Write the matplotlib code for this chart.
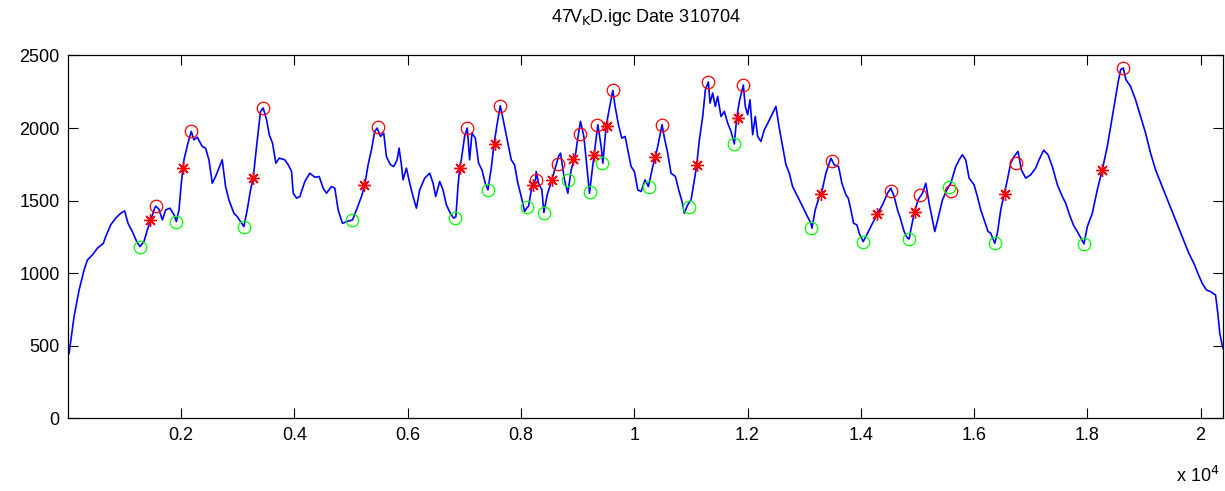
import matplotlib
matplotlib.use('Agg')
import matplotlib.pyplot as plt

# flight trace (time index, altitude)
flight = [
    (19, 447), (107, 700), (196, 884), (284, 1022), (343, 1091), (431, 1126), (519, 1172),
    (625, 1206), (666, 1252), (754, 1333), (842, 1379), (931, 1413), (1001, 1429),
    (1060, 1344), (1136, 1287), (1213, 1218), (1272, 1183), (1342, 1218), (1401, 1298),
    (1472, 1379), (1530, 1448), (1550, 1462), (1607, 1440), (1666, 1367), (1725, 1436),
    (1801, 1448), (1872, 1402), (1913, 1356), (1960, 1436), (2001, 1620), (2048, 1781),
    (2118, 1896), (2177, 1977), (2224, 1919), (2283, 1937), (2371, 1873), (2430, 1862),
    (2489, 1781), (2548, 1620), (2606, 1666), (2665, 1724), (2724, 1781), (2783, 1597),
    (2842, 1505), (2930, 1413), (2989, 1390), (3047, 1356), (3106, 1321), (3165, 1436),
    (3224, 1574), (3271, 1655), (3330, 1873), (3400, 2115), (3447, 2138), (3507, 2057),
    (3554, 1954), (3612, 1896), (3671, 1758), (3730, 1793), (3830, 1781), (3889, 1747),
    (3948, 1701), (3977, 1551), (4036, 1517), (4095, 1528), (4183, 1632), (4271, 1689),
    (4359, 1661), (4436, 1666), (4506, 1586), (4565, 1551), (4653, 1597), (4712, 1586),
    (4771, 1436), (4847, 1344), (4930, 1356), (5024, 1367), (5094, 1436), (5182, 1528),
    (5241, 1609), (5300, 1747), (5359, 1850), (5418, 1977), (5459, 2000), (5518, 1942),
    (5576, 1965), (5623, 1804), (5694, 1747), (5753, 1735), (5812, 1781), (5847, 1862),
    (5888, 1747), (5917, 1643), (5976, 1724), (6035, 1620), (6094, 1528), (6153, 1448),
    (6211, 1574), (6300, 1655), (6388, 1689), (6447, 1620), (6494, 1528), (6564, 1632),
    (6623, 1574), (6682, 1471), (6752, 1413), (6811, 1379), (6850, 1390), (6887, 1597),
    (6916, 1724), (6946, 1781), (7004, 1942), (7051, 2000), (7093, 1781), (7134, 1965),
    (7193, 1931), (7251, 1758), (7310, 1712), (7369, 1620), (7416, 1574), (7475, 1724),
    (7522, 1885), (7581, 2034), (7634, 2154), (7698, 2034), (7757, 1919), (7828, 1781),
    (7886, 1747), (7945, 1620), (8004, 1528), (8063, 1425), (8110, 1454), (8133, 1459),
    (8192, 1597), (8257, 1643), (8269, 1701), (8310, 1620), (8369, 1574), (8404, 1418),
    (8463, 1540), (8545, 1643), (8622, 1747), (8663, 1804), (8698, 1827), (8768, 1643),
    (8827, 1551), (8886, 1712), (8957, 1804), (9004, 1931), (9051, 2046), (9110, 1942),
    (9151, 1781), (9210, 1551), (9251, 1689), (9298, 1839), (9357, 2023), (9416, 1873),
    (9445, 1758), (9503, 2011), (9562, 2138), (9621, 2259), (9662, 2149), (9721, 2023),
    (9780, 1931), (9839, 1942), (9897, 1827), (9944, 1735), (10003, 1701), (10062, 1574),
    (10121, 1563), (10191, 1643), (10250, 1597), (10327, 1735), (10374, 1804),
    (10415, 1873), (10491, 2023), (10533, 1931), (10591, 1827), (10650, 1689),
    (10727, 1666), (10785, 1574), (10844, 1494), (10885, 1413), (10944, 1471),
    (11003, 1505), (11062, 1643), (11103, 1747), (11150, 1919), (11209, 2080),
    (11256, 2264), (11309, 2317), (11338, 2172), (11385, 2241), (11432, 2149),
    (11473, 2218), (11532, 2080), (11591, 2115), (11650, 2034), (11709, 1977),
    (11767, 1891), (11809, 2069), (11856, 2184), (11926, 2296), (11961, 2149),
    (12003, 2092), (12044, 2195), (12091, 1954), (12138, 2080), (12179, 1942),
    (12238, 1908), (12297, 1988), (12373, 2046), (12444, 2103), (12502, 2149),
    (12561, 2000), (12620, 1873), (12679, 1747), (12738, 1689), (12796, 1597),
    (12855, 1551), (12914, 1505), (12973, 1459), (13043, 1402), (13120, 1344),
    (13138, 1310), (13196, 1436), (13267, 1528), (13314, 1563), (13384, 1689),
    (13473, 1793), (13531, 1747), (13608, 1735), (13667, 1620), (13737, 1540),
    (13779, 1517), (13826, 1436), (13873, 1344), (13931, 1333), (13973, 1275),
    (14043, 1218), (14090, 1252), (14178, 1321), (14284, 1402), (14384, 1471),
    (14472, 1551), (14531, 1586), (14590, 1528), (14649, 1436), (14708, 1367),
    (14766, 1287), (14825, 1241), (14855, 1236), (14884, 1298), (14943, 1413),
    (15013, 1505), (15090, 1551), (15149, 1620), (15207, 1482), (15266, 1367),
    (15307, 1287), (15366, 1379), (15443, 1505), (15519, 1574), (15590, 1620),
    (15678, 1735), (15737, 1781), (15795, 1816), (15854, 1781), (15913, 1655),
    (16001, 1609), (16060, 1528), (16119, 1436), (16178, 1367), (16248, 1287),
    (16295, 1275), (16366, 1206), (16413, 1275), (16472, 1436), (16530, 1540),
    (16589, 1643), (16648, 1758), (16707, 1804), (16777, 1839), (16836, 1712),
    (16913, 1655), (17001, 1678), (17089, 1724), (17148, 1781), (17230, 1848),
    (17307, 1816), (17383, 1735), (17472, 1609), (17560, 1528), (17619, 1482),
    (17677, 1413), (17754, 1333), (17824, 1287), (17942, 1202), (18001, 1321),
    (18089, 1413), (18177, 1574), (18265, 1712), (18354, 1873), (18424, 2034),
    (18483, 2172), (18542, 2310), (18589, 2402), (18636, 2414), (18683, 2333),
    (18765, 2287), (18853, 2195), (18942, 2080), (19030, 1965), (19118, 1827),
    (19206, 1712), (19324, 1597), (19441, 1482), (19559, 1367), (19677, 1252),
    (19794, 1137), (19883, 1068), (19953, 999), (20030, 930), (20106, 884),
    (20177, 873), (20265, 850), (20306, 723), (20341, 585), (20382, 505), (20400, 482),
]
flight_x = [p[0] for p in flight]
flight_alt = [p[1] for p in flight]

# thermal tops (red circles)
peak_x = [1550, 2177, 3440, 5476, 7051, 7634, 8257, 8651, 9045, 9339,
          9621, 10491, 11309, 11926, 13490, 14531, 15043, 15590, 16736, 18636]
peak_alt = [1460, 1977, 2140, 2009, 2000, 2154, 1643, 1751, 1960, 2023,
            2259, 2023, 2317, 2296, 1774, 1569, 1537, 1569, 1758, 2414]

# thermal bottoms (green circles)
trough_x = [1272, 1913, 3106, 5024, 6840, 7416, 8110, 8404, 8827, 9210,
            9433, 10260, 10974, 11767, 13126, 14043, 14855, 15560, 16366, 17942]
trough_alt = [1183, 1356, 1321, 1367, 1379, 1570, 1454, 1418, 1643, 1558,
              1758, 1597, 1454, 1891, 1310, 1218, 1236, 1597, 1206, 1202]

# midpoints (red stars)
mid_x = [1448, 2036, 3259, 5229, 6916, 7534, 8210, 8545, 8927, 9286,
         9521, 10360, 11103, 11826, 13302, 14284, 14960, 16548, 18265]
mid_alt = [1367, 1724, 1659, 1609, 1724, 1889, 1609, 1643, 1786, 1816,
           2016, 1804, 1747, 2069, 1547, 1406, 1425, 1546, 1712]

xtick_values = [2000, 4000, 6000, 8000, 10000, 12000, 14000, 16000, 18000, 20000]
xtick_labels = ['0.2', '0.4', '0.6', '0.8', '1', '1.2', '1.4', '1.6', '1.8', '2']
ytick_values = [0, 500, 1000, 1500, 2000, 2500]

plt.rcParams['font.family'] = ['Liberation Sans Narrow', 'Liberation Sans', 'DejaVu Sans']

fig = plt.figure(figsize=(12.25, 4.91), dpi=100)
ax = fig.add_axes([0.0555, 0.148, 0.943, 0.739])

ax.plot(flight_x, flight_alt, color=(0, 0, 1), lw=1.2)
ax.plot(peak_x, peak_alt, 'o', ms=9, mfc='none', mec=(1, 0, 0), mew=0.9)
ax.plot(trough_x, trough_alt, 'o', ms=9, mfc='none', mec=(0, 1, 0), mew=0.9)
ax.plot(mid_x, mid_alt, linestyle='none', marker=(8, 2, 0), ms=9,
        mec=(1, 0, 0), mew=1.0)

ax.set_xlim(0, flight_x[-1])
ax.set_ylim(0, 2500)
ax.set_xticks(xtick_values)
ax.set_xticklabels(xtick_labels)
ax.set_yticks(ytick_values)
ax.tick_params(direction='in', length=7, width=0.8, top=True, right=True,
               labelsize=13, pad=6)
for s in ax.spines.values():
    s.set_linewidth(0.9)

ax.text(0.997, -0.16, r'x 10$^{4}$', transform=ax.transAxes, ha='right',
        va='center', fontsize=13)
ax.set_title(r'47V$_{\mathrm{K}}$D.igc Date 310704', fontsize=13, pad=24)

fig.savefig('out.png', dpi=100)
